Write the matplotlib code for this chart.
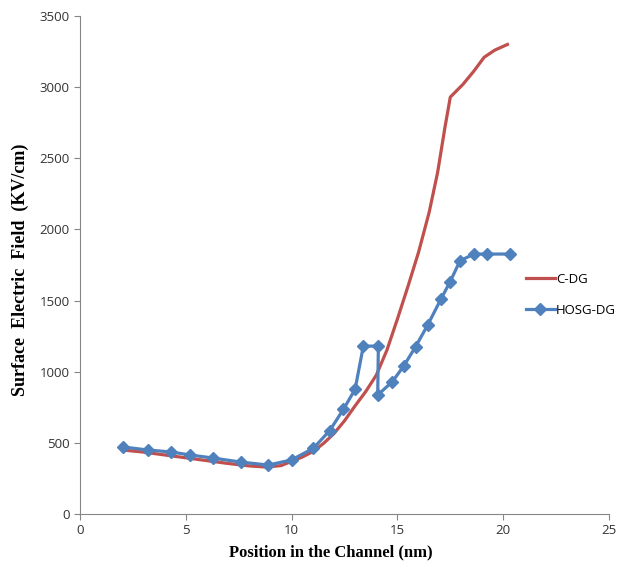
import matplotlib
matplotlib.use('Agg')
import matplotlib.pyplot as plt

# C-DG (smooth curve)
x_cdg = [2.0, 3.0, 4.0, 5.0, 6.0, 7.0, 8.0, 8.8, 9.5, 10.0, 10.5, 11.0, 11.5, 12.0, 12.5, 13.0, 13.5, 14.0, 14.5, 15.0, 15.5, 16.0, 16.5, 16.9, 17.25, 17.5, 18.1, 18.6, 19.1, 19.6, 20.2]
y_cdg = [450, 435, 415, 395, 375, 355, 338, 330, 340, 370, 400, 438, 495, 565, 655, 760, 860, 975, 1150, 1370, 1600, 1840, 2120, 2400, 2720, 2930, 3020, 3110, 3210, 3260, 3300]

# HOSG-DG (marked points)
x_hosg = [2.03, 3.2, 4.3, 5.2, 6.3, 7.6, 8.9, 10.0, 11.03, 11.8, 12.45, 13.0, 13.39, 14.1, 14.07, 14.76, 15.3, 15.86, 16.43, 17.06, 17.49, 17.96, 18.62, 19.22, 20.32]
y_hosg = [471, 450, 436, 415, 393, 365, 344, 380, 462, 586, 736, 876, 1180, 1180, 836, 930, 1040, 1176, 1328, 1511, 1632, 1780, 1827, 1827, 1827]

fig = plt.figure(figsize=(6.27, 5.72), dpi=100)
ax = fig.add_axes([80/627, 58/572, 529/627, 498/572])

ax.plot(x_cdg, y_cdg, color='#C0504D', lw=2.3, label='C-DG')
ax.plot(x_hosg, y_hosg, color='#4F81BD', lw=2.3, marker='D', markersize=6, label='HOSG-DG')

ax.set_xlim(0, 25)
ax.set_ylim(0, 3500)
ax.set_xticks(range(0, 26, 5))
ax.set_yticks(range(0, 3501, 500))

for s in ['top', 'right']:
    ax.spines[s].set_visible(False)
for s in ['left', 'bottom']:
    ax.spines[s].set_color('#868686')
ax.tick_params(colors='#868686', labelcolor='#333333', labelsize=9.5, length=4, direction='out')
for lbl in ax.get_xticklabels() + ax.get_yticklabels():
    lbl.set_family('Open Sans')

ax.set_xlabel('Position in the Channel (nm)', fontsize=12, fontweight='bold', family='Liberation Serif')
ax.set_ylabel('Surface  Electric  Field  (KV/cm)', fontsize=13, fontweight='bold', family='Liberation Serif')
ax.xaxis.set_label_coords(0.475, -0.062)
ax.yaxis.set_label_coords(-0.096, 0.49)

ax.legend(loc='center left', bbox_to_anchor=(0.82, 0.44), frameon=False,
          prop={'family': 'Open Sans', 'size': 9.5}, handlelength=2.2, handletextpad=0.1, labelspacing=1.4)

fig.savefig('out.png', dpi=100)
